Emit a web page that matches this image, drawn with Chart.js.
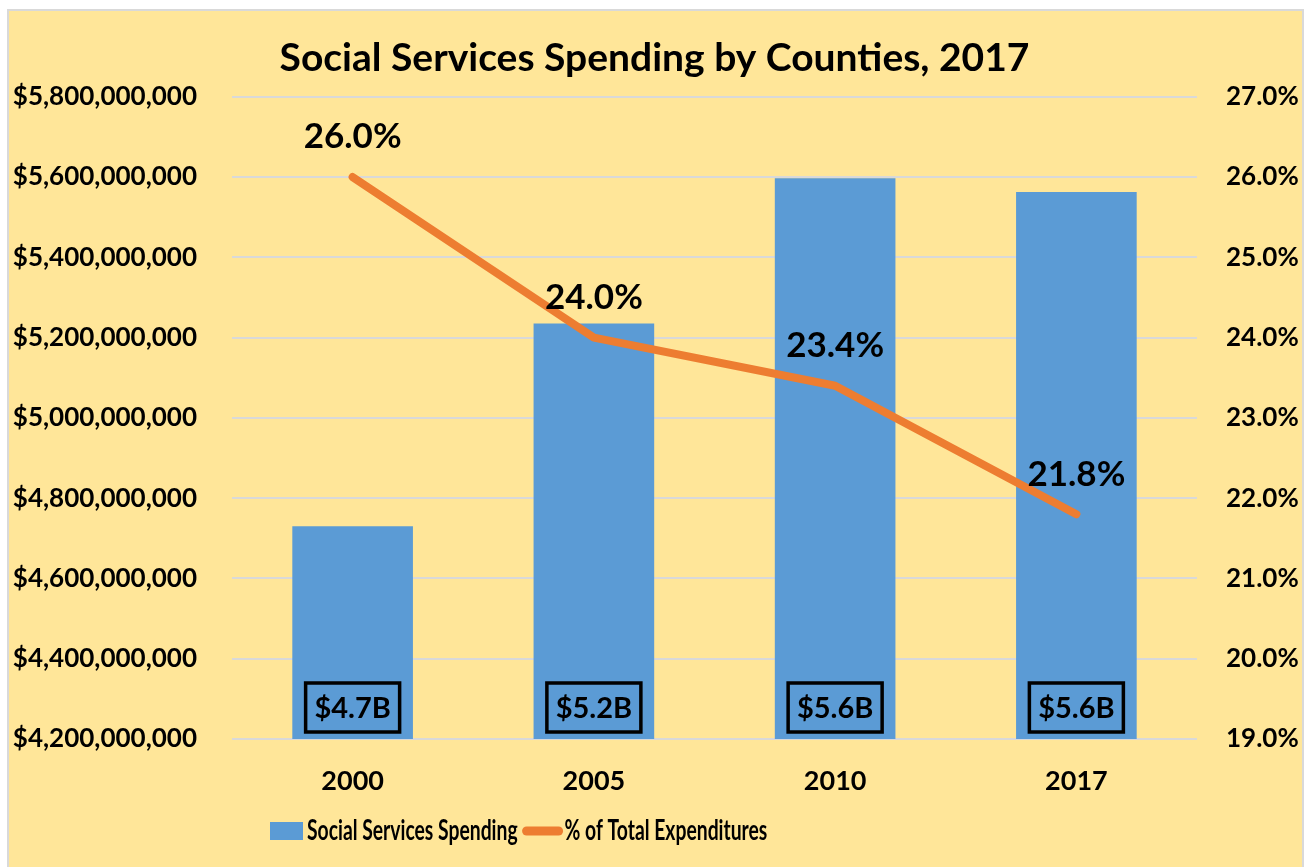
<!DOCTYPE html>
<html>
<head>
<meta charset="utf-8">
<title>Social Services Spending by Counties, 2017</title>
<script src="https://cdn.jsdelivr.net/npm/chart.js@4.4.1/dist/chart.umd.min.js"></script>
<style>
  html, body { margin: 0; padding: 0; background: #ffffff; }
  #wrap { position: absolute; left: 0; top: 0; width: 1309px; height: 867px; }
  canvas { display: block; }
</style>
</head>
<body>
<div id="wrap"><canvas id="chart" width="1309" height="867"></canvas></div>
<script>
// Years shown on the category axis
const years = ['2000', '2005', '2010', '2017'];
// County social services spending, dollars
const spending = [4730000000, 5235000000, 5597000000, 5563000000];
// Social services as a share of total county expenditures, percent
const pctOfTotal = [26.0, 24.0, 23.4, 21.8];
// Axis ranges and tick steps
const spendingAxis = { min: 4200000000, max: 5800000000, step: 200000000 };
const pctAxis = { min: 19, max: 27, step: 1 };

const FONT = 'Lato, "Open Sans", "DejaVu Sans", sans-serif';
const BG = '#FFE699';
const BAR = '#5B9BD5';
const LINE = '#ED7D31';
const GRID = '#D9D9D9';

Chart.defaults.font.family = FONT;
Chart.defaults.font.weight = 'bold';
Chart.defaults.color = '#000000';

// Frame and background behind the whole chart
const frame = {
  id: 'frame',
  beforeDraw(chart) {
    const ctx = chart.ctx;
    ctx.save();
    ctx.fillStyle = '#ffffff';
    ctx.fillRect(0, 0, chart.width, chart.height);
    ctx.fillStyle = BG;
    ctx.fillRect(8, 10, 1294, chart.height - 10);
    ctx.strokeStyle = GRID;
    ctx.lineWidth = 2;
    ctx.beginPath();
    ctx.moveTo(8, chart.height + 2);
    ctx.lineTo(8, 10);
    ctx.lineTo(1303, 10);
    ctx.lineTo(1303, chart.height + 2);
    ctx.stroke();
    ctx.restore();
  }
};

// Value labels: boxed dollar amounts at the foot of each bar,
// percentages above each point of the line
const valueLabels = {
  id: 'valueLabels',
  afterDatasetsDraw(chart) {
    const ctx = chart.ctx;
    const floor = chart.scales.y.getPixelForValue(chart.scales.y.min);
    ctx.save();
    ctx.textAlign = 'center';
    ctx.textBaseline = 'middle';
    ctx.fillStyle = '#000';

    const barMeta = chart.getDatasetMeta(0);
    ctx.font = 'bold 29px ' + FONT;
    barMeta.data.forEach((bar, i) => {
      const v = chart.data.datasets[0].data[i];
      const text = '$' + (v / 1e9).toFixed(1) + 'B';
      const w = 94, h = 49;
      const bottom = floor - 7;
      ctx.lineWidth = 3.5;
      ctx.strokeStyle = '#000';
      ctx.strokeRect(bar.x - w / 2, bottom - h, w, h);
      ctx.fillText(text, bar.x, bottom - h / 2 + 1);
    });

    const lineMeta = chart.getDatasetMeta(1);
    ctx.font = 'bold 35px ' + FONT;
    lineMeta.data.forEach((pt, i) => {
      const v = chart.data.datasets[1].data[i];
      ctx.fillText(v.toFixed(1) + '%', pt.x, pt.y - 40);
    });
    ctx.restore();
  }
};

// Legend row under the category labels (condensed lettering)
const legendRow = {
  id: 'legendRow',
  afterDraw(chart) {
    const ctx = chart.ctx;
    const ds = chart.data.datasets;
    const cy = 831;
    const squeeze = 0.69;
    let x = 270;
    ctx.save();
    ctx.font = 'bold 28px ' + FONT;
    ctx.textBaseline = 'middle';
    ctx.textAlign = 'left';
    ctx.fillStyle = ds[0].backgroundColor;
    ctx.fillRect(x, cy - 9, 33, 18);
    x += 37;
    const drawText = (t, tx) => {
      ctx.save();
      ctx.translate(tx, cy);
      ctx.scale(squeeze, 1);
      ctx.fillStyle = '#000';
      ctx.fillText(t, 0, 0);
      ctx.restore();
      return ctx.measureText(t).width * squeeze;
    };
    x += drawText(ds[0].label, x) + 9;
    ctx.strokeStyle = ds[1].borderColor;
    ctx.lineWidth = 9;
    ctx.lineCap = 'round';
    ctx.beginPath();
    ctx.moveTo(x, cy);
    ctx.lineTo(x + 32, cy);
    ctx.stroke();
    x += 38;
    drawText(ds[1].label, x);
    ctx.restore();
  }
};

new Chart(document.getElementById('chart'), {
  data: {
    labels: years,
    datasets: [
      {
        type: 'bar',
        label: 'Social Services Spending',
        data: spending,
        backgroundColor: BAR,
        yAxisID: 'y',
        order: 2,
        categoryPercentage: 1.0,
        barPercentage: 0.5
      },
      {
        type: 'line',
        label: '% of Total Expenditures',
        data: pctOfTotal,
        borderColor: LINE,
        backgroundColor: LINE,
        borderWidth: 8,
        borderCapStyle: 'round',
        borderJoinStyle: 'round',
        tension: 0,
        pointRadius: 0,
        pointHoverRadius: 0,
        yAxisID: 'y1',
        order: 1
      }
    ]
  },
  options: {
    responsive: false,
    devicePixelRatio: 1,
    animation: false,
    layout: { padding: { left: 0, right: 0, top: 0, bottom: 0 } },
    plugins: {
      legend: { display: false },
      tooltip: { enabled: false },
      title: {
        display: true,
        text: 'Social Services Spending by Counties, 2017',
        font: { size: 39, weight: 'bold', family: FONT },
        color: '#000',
        padding: { top: 35, bottom: 15 }
      }
    },
    scales: {
      x: {
        grid: { display: false, drawTicks: false },
        border: { display: false },
        ticks: { font: { size: 27, weight: 'bold' }, padding: 26, color: '#000' },
        afterFit(scale) { scale.height = 128; }
      },
      y: {
        position: 'left',
        min: spendingAxis.min,
        max: spendingAxis.max,
        grid: { color: GRID, lineWidth: 2, drawTicks: false },
        border: { display: false },
        ticks: {
          stepSize: spendingAxis.step,
          padding: 35,
          font: { size: 26, weight: 'bold' },
          color: '#000',
          callback: (v) => '$' + Math.round(v).toLocaleString('en-US')
        },
        afterFit(scale) { scale.width = 232; }
      },
      y1: {
        position: 'right',
        min: pctAxis.min,
        max: pctAxis.max,
        grid: { display: false, drawTicks: false },
        border: { display: false },
        ticks: {
          stepSize: pctAxis.step,
          padding: 29,
          font: { size: 26, weight: 'bold' },
          color: '#000',
          callback: (v) => Number(v).toFixed(1) + '%'
        },
        afterFit(scale) { scale.width = 112; }
      }
    }
  },
  plugins: [frame, valueLabels, legendRow]
});
</script>
</body>
</html>
